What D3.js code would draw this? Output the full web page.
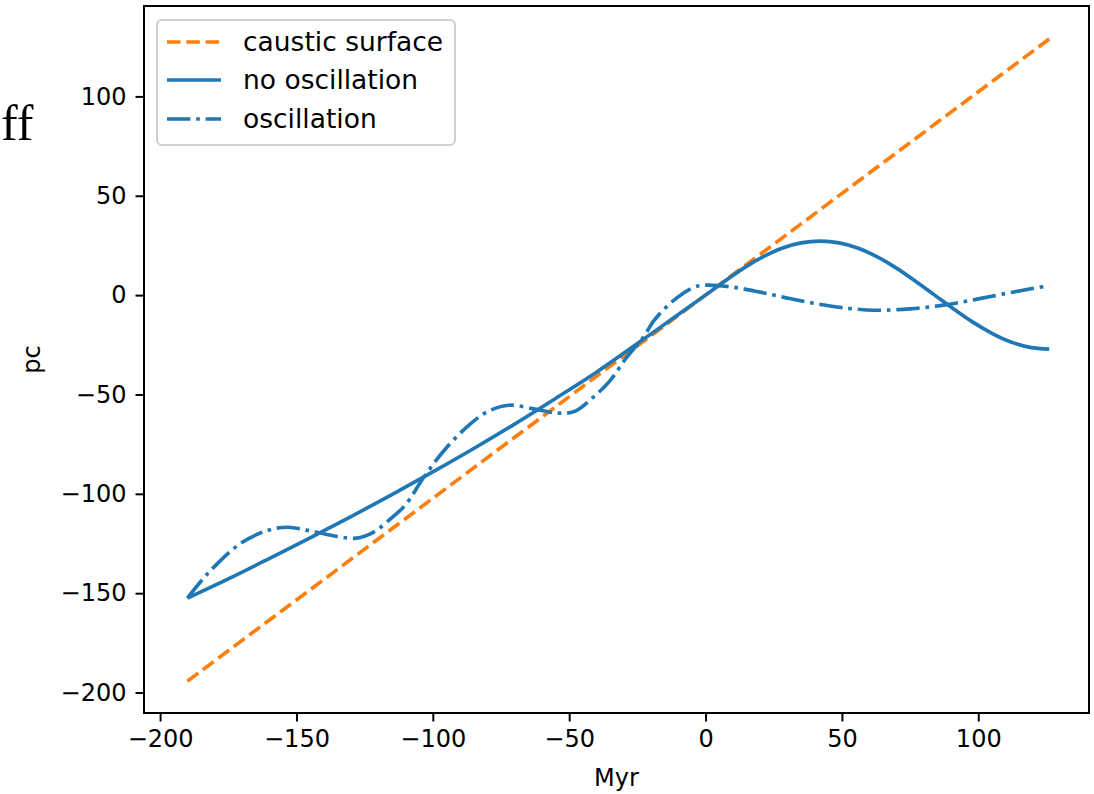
<!DOCTYPE html>
<html>
<head>
<meta charset="utf-8">
<script src="https://cdn.jsdelivr.net/npm/d3@7"></script>
<style>
  body { margin: 0; background: #fff; }
  text { font-family: "DejaVu Sans", sans-serif; }
</style>
</head>
<body>
<div id="chart"></div>
<script>
// data
var causticX = [-190, 126];
var causticY = [-194.3, 128.9];

var noOscX = [-190, -175, -160, -145, -130, -115, -100, -85, -70, -55, -40, -25, -10, 0,
              7, 14, 21, 28, 35, 42, 49, 56, 63, 70, 77, 84, 91, 98, 105, 112, 119, 126];
var noOscY = [-152.5, -142.8, -132.6, -122.2, -111.5, -100.4, -89.0, -77.2, -64.9, -52.0, -38.8, -24.4, -9.8, 0,
              7.0, 13.6, 19.2, 23.6, 26.3, 27.2, 26.3, 23.6, 19.2, 13.6, 7.0, 0, -7.0, -13.6, -19.2, -23.6, -26.3, -27.2];

var oscX = [-190, -185, -180, -170, -160, -153, -145, -135, -128, -122, -115, -110, -103, -95, -86, -79, -72,
            -62, -54, -48, -41, -35, -29, -22.7, -19, -12, -4.5, 0,
            10, 20, 30, 40, 50, 62, 75, 88, 100, 113, 126];
var oscY = [-152.5, -144, -136.5, -124.5, -118.2, -116.8, -118.6, -121.5, -122.3, -119.5, -112, -105.5, -91, -76.8, -64.5, -58, -55.4,
            -57.5, -59.4, -58.5, -51.2, -43, -31.5, -21, -13, -3, 3.8, 5.0,
            4.0, 1.5, -1.5, -4.2, -6.3, -7.6, -6.9, -4.9, -1.9, 1.6, 4.8];

var xTicks = [-200, -150, -100, -50, 0, 50, 100];
var yTicks = [-200, -150, -100, -50, 0, 50, 100];

var seriesNames = ["caustic surface", "no oscillation", "oscillation"];

var svgWidth = 1094;
var svgHeight = 794;
var margin = { top: 6, right: 5, bottom: 81, left: 144 };
var width = svgWidth - margin.left - margin.right;
var height = svgHeight - margin.top - margin.bottom;

var blue = "#1f77b4";
var orange = "#ff7f0e";
var lw = 3.65;

var svg = d3.select("#chart")
  .append("svg")
  .attr("width", svgWidth)
  .attr("height", svgHeight);

// stray text at the left edge
svg.append("text")
  .attr("x", 1)
  .attr("y", 140)
  .style("font-family", "'Liberation Serif', serif")
  .style("font-size", "50px")
  .text("ff");

var chartGroup = svg.append("g")
  .attr("transform", `translate(${margin.left}, ${margin.top})`);

var x = d3.scaleLinear().domain([-205.9, 140.6]).range([0, width]);
var y = d3.scaleLinear().domain([-210.3, 145.5]).range([height, 0]);

// axes
var xAxisG = chartGroup.append("g")
  .attr("transform", `translate(0, ${height})`)
  .call(d3.axisBottom(x).tickValues(xTicks).tickSize(8.5).tickPadding(8));
var yAxisG = chartGroup.append("g")
  .call(d3.axisLeft(y).tickValues(yTicks).tickSize(8.5).tickPadding(9));

[xAxisG, yAxisG].forEach(function(g) {
  g.select(".domain").remove();
  g.selectAll(".tick line").attr("stroke", "#000").attr("stroke-width", 2);
  g.selectAll(".tick text")
    .attr("fill", "#000")
    .style("font-family", "'DejaVu Sans', sans-serif")
    .style("font-size", "24px");
});

// lines
function makeLine(xs, ys) {
  return d3.line()
    .x(function(d, i) { return x(xs[i]); })
    .y(function(d, i) { return y(ys[i]); })
    .curve(d3.curveCatmullRom.alpha(0.5))(xs);
}

chartGroup.append("path")
  .attr("d", makeLine(causticX, causticY))
  .attr("fill", "none")
  .attr("stroke", orange)
  .attr("stroke-width", lw)
  .attr("stroke-dasharray", "13.5,5.8");

chartGroup.append("path")
  .attr("d", makeLine(noOscX, noOscY))
  .attr("fill", "none")
  .attr("stroke", blue)
  .attr("stroke-width", lw)
  .attr("stroke-linejoin", "round");

chartGroup.append("path")
  .attr("d", makeLine(oscX, oscY))
  .attr("fill", "none")
  .attr("stroke", blue)
  .attr("stroke-width", lw)
  .attr("stroke-dasharray", "23.4,5.8,3.65,5.8");

// frame
chartGroup.append("rect")
  .attr("width", width)
  .attr("height", height)
  .attr("fill", "none")
  .attr("stroke", "#000")
  .attr("stroke-width", 2);

// axis labels
svg.append("text")
  .attr("x", margin.left + width / 2)
  .attr("y", 786)
  .attr("text-anchor", "middle")
  .style("font-size", "24px")
  .text("Myr");

svg.append("text")
  .attr("transform", `translate(40, ${margin.top + height / 2}) rotate(-90)`)
  .attr("text-anchor", "middle")
  .style("font-size", "24px")
  .text("pc");

// legend
var legend = svg.append("g");
legend.append("rect")
  .attr("x", 157)
  .attr("y", 20)
  .attr("width", 298)
  .attr("height", 125)
  .attr("rx", 5)
  .attr("fill", "#fff")
  .attr("fill-opacity", 0.8)
  .attr("stroke", "#d0d0d0")
  .attr("stroke-width", 2);

var legendStyles = [
  { color: orange, dash: "13.5,5.8" },
  { color: blue, dash: null },
  { color: blue, dash: "23.4,5.8,3.65,5.8" }
];
var rowY = [42, 80, 119];

seriesNames.forEach(function(name, i) {
  legend.append("line")
    .attr("x1", 167).attr("x2", 221)
    .attr("y1", rowY[i]).attr("y2", rowY[i])
    .attr("stroke", legendStyles[i].color)
    .attr("stroke-width", lw)
    .attr("stroke-dasharray", legendStyles[i].dash);
  legend.append("text")
    .attr("x", 243)
    .attr("y", rowY[i])
    .attr("dy", "0.35em")
    .style("font-size", "26.5px")
    .text(name);
});
</script>
</body>
</html>
